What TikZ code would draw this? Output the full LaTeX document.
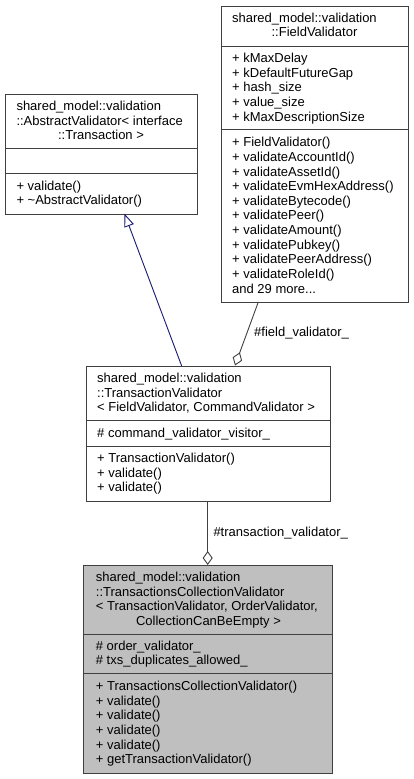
\documentclass[tikz,border=0pt]{standalone}
\usepackage{fontspec}
\setmainfont{Liberation Sans}
\usetikzlibrary{arrows.meta}
\definecolor{edgegray}{HTML}{404040}
\definecolor{navyedge}{HTML}{191970}
\definecolor{boxgray}{HTML}{BFBFBF}
\definecolor{borderc}{HTML}{404040}
\begin{document}
\begin{tikzpicture}[x=1pt,y=-1pt,
  umlbox/.style={draw=borderc, line width=1pt, inner sep=0pt, anchor=north west, fill=white},
  sepline/.style={draw=borderc, line width=1pt},
  txt/.style={inner sep=0pt, font=\fontsize{13}{14.5}\selectfont, anchor=base west},
  ctxt/.style={txt, anchor=base},
  inh/.style={draw=navyedge, line width=0.9pt, -{Triangle[open,length=13pt,width=10pt,fill=white]}},
  agg/.style={draw=edgegray, line width=0.9pt, {Diamond[open,length=14pt,width=10pt,fill=white]}-}]
\useasboundingbox (0,0) rectangle (413,779);

% FieldValidator
\node[umlbox, minimum width=187pt, minimum height=296pt] (fv) at (221,6) {};
\draw[sepline] (221,46) -- (408,46);
\draw[sepline] (221,129.5) -- (408,129.5);
\node[txt] (fvt1) at (232,22) {shared\_model::validation};
\node[ctxt] (fvt2) at (314.5,36.6) {::FieldValidator};
\node[txt] (fva1) at (232,62.7) {+ kMaxDelay};
\node[txt] (fva2) at (232,77.3) {+ kDefaultFutureGap};
\node[txt] (fva3) at (232,91.9) {+ hash\_size};
\node[txt] (fva4) at (232,106.5) {+ value\_size};
\node[txt] (fva5) at (232,121.1) {+ kMaxDescriptionSize};
\node[txt] (fvm1) at (232,146.7) {+ FieldValidator()};
\node[txt] (fvm2) at (232,161.35) {+ validateAccountId()};
\node[txt] (fvm3) at (232,176) {+ validateAssetId()};
\node[txt] (fvm4) at (232,190.65) {+ validateEvmHexAddress()};
\node[txt] (fvm5) at (232,205.3) {+ validateBytecode()};
\node[txt] (fvm6) at (232,219.95) {+ validatePeer()};
\node[txt] (fvm7) at (232,234.6) {+ validateAmount()};
\node[txt] (fvm8) at (232,249.25) {+ validatePubkey()};
\node[txt] (fvm9) at (232,263.9) {+ validatePeerAddress()};
\node[txt] (fvm10) at (232,278.55) {+ validateRoleId()};
\node[txt] (fvm11) at (232,293.2) {and 29 more...};

% AbstractValidator
\node[umlbox, minimum width=192pt, minimum height=119.4pt] (av) at (5,94.3) {};
\draw[sepline] (5,148.7) -- (197,148.7);
\draw[sepline] (5,173.7) -- (197,173.7);
\node[txt] (avt1) at (16.3,110.7) {shared\_model::validation};
\node[txt] (avt2) at (16.3,125.2) {::AbstractValidator< interface};
\node[ctxt] (avt3) at (101,139.7) {::Transaction >};
\node[txt] (avm1) at (16.3,190) {+ validate()};
\node[txt] (avm2) at (16.3,204.8) {+ \textasciitilde AbstractValidator()};

% TransactionValidator
\node[umlbox, minimum width=244pt, minimum height=134.7pt] (tv) at (86,366) {};
\draw[sepline] (86,420.3) -- (330,420.3);
\draw[sepline] (86,446) -- (330,446);
\node[txt] (tvt1) at (97,382.3) {shared\_model::validation};
\node[txt] (tvt2) at (97,397) {::TransactionValidator};
\node[txt] (tvt3) at (97,411.7) {< FieldValidator, CommandValidator >};
\node[txt] (tva1) at (97,437.7) {\# command\_validator\_visitor\_};
\node[txt] (tvm1) at (97,462.3) {+ TransactionValidator()};
\node[txt] (tvm2) at (97,477) {+ validate()};
\node[txt] (tvm3) at (97,491.6) {+ validate()};

% TransactionsCollectionValidator
\node[umlbox, fill=boxgray, minimum width=249pt, minimum height=207.7pt] (tcv) at (83,565) {};
\draw[sepline] (83,634) -- (332,634);
\draw[sepline] (83,673.3) -- (332,673.3);
\node[txt] (tct1) at (95.7,581.7) {shared\_model::validation};
\node[txt] (tct2) at (95.7,596.3) {::TransactionsCollectionValidator};
\node[txt] (tct3) at (95.7,610.9) {< TransactionValidator, OrderValidator,};
\node[ctxt] (tct4) at (208.5,625.5) {CollectionCanBeEmpty >};
\node[txt] (tca1) at (95.7,650) {\# order\_validator\_};
\node[txt] (tca2) at (95.7,664.6) {\# txs\_duplicates\_allowed\_};
\node[txt] (tcm1) at (95.7,690.7) {+ TransactionsCollectionValidator()};
\node[txt] (tcm2) at (95.7,705.3) {+ validate()};
\node[txt] (tcm3) at (95.7,719.9) {+ validate()};
\node[txt] (tcm4) at (95.7,734.5) {+ validate()};
\node[txt] (tcm5) at (95.7,749.1) {+ validate()};
\node[txt] (tcm6) at (95.7,763.7) {+ getTransactionValidator()};

% connectors
\coordinate (tvI) at (181.7,366);
\coordinate (avI) at (124.5,213.7);
\draw[inh] (tvI) -- (avI);

\coordinate (tvA) at (235,365.5);
\coordinate (fvA) at (258.3,302);
\draw[agg] (tvA) -- (fvA);
\node[txt] (lblf) at (254,336.7) {\#field\_validator\_};

\coordinate (tcvA) at (207.7,565);
\coordinate (tvB) at (207.7,500.7);
\draw[agg] (tcvA) -- (tvB);
\node[txt] (lblt) at (213.3,536.7) {\#transaction\_validator\_};
\end{tikzpicture}
\end{document}
